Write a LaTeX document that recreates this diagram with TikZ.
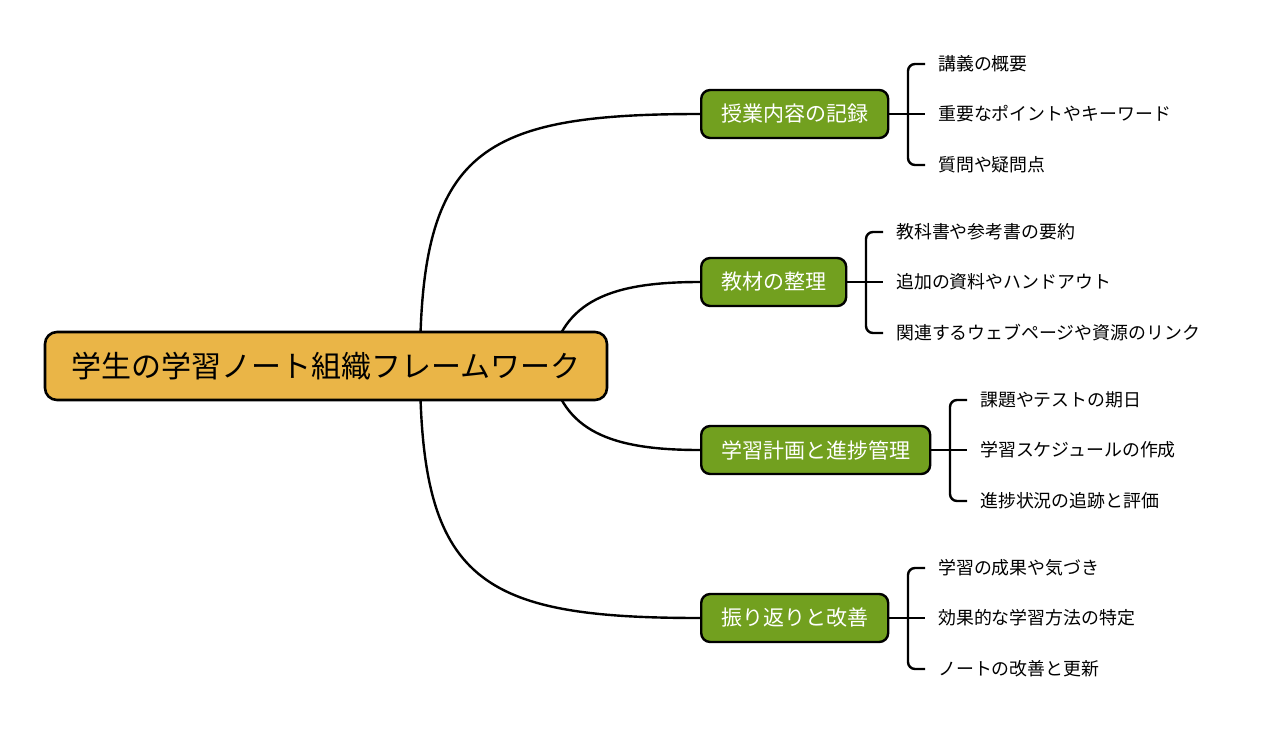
\documentclass[tikz,border=0pt]{standalone}
\usepackage{fontspec}
\usepackage{xcolor}
\usetikzlibrary{calc}
\newfontfamily\jpfont{Noto Sans CJK JP}
\definecolor{mapink}{HTML}{000000}
\definecolor{maproot}{HTML}{EAB547}
\definecolor{mapgreen}{HTML}{72A01F}

\begin{document}
\begin{tikzpicture}[
  x=1pt, y=-1pt,
  rootbox/.style={draw=mapink, fill=maproot, text=mapink, line width=2.6pt,
    rounded corners=12pt, minimum width=562pt, minimum height=68pt,
    font=\jpfont\fontsize{30}{34}\selectfont},
  topic/.style={draw=mapink, fill=mapgreen, text=white, line width=2.4pt,
    rounded corners=9pt, inner xsep=20pt, minimum height=48pt,
    font=\jpfont\fontsize{21}{24}\selectfont},
  leaf/.style={anchor=west, inner sep=0pt, text=mapink,
    font=\jpfont\fontsize{17.9}{21}\selectfont},
  branch/.style={draw=mapink, line width=2.4pt},
  brace/.style={draw=mapink, line width=2.4pt, rounded corners=7pt},
]
\useasboundingbox (0,0) rectangle (1264,747);

% ===== curve start points inside the root =====
\coordinate (rootout) at (420,366);
\coordinate (rootin) at (550,366);

% ===== topics =====
\node[topic, anchor=west] (b1) at (700,114) {授業内容の記録};
\node[topic, anchor=west] (b2) at (700,282) {教材の整理};
\node[topic, anchor=west] (b3) at (700,450) {学習計画と進捗管理};
\node[topic, anchor=west] (b4) at (700,618) {振り返りと改善};

% ===== curves from the root =====
\draw[branch] (rootout) .. controls (420,150) and (480,114) .. (b1.west);
\draw[branch] (rootin) .. controls (562,300) and (612,282) .. (b2.west);
\draw[branch] (rootin) .. controls (562,432) and (612,450) .. (b3.west);
\draw[branch] (rootout) .. controls (420,582) and (480,618) .. (b4.west);

% ===== root =====
\node[rootbox] (root) at (326,366) {学生の学習ノート組織フレームワーク};

% ===== leaves =====
\node[leaf] (l11) at (938,64) {講義の概要};
\node[leaf] (l12) at (938,114) {重要なポイントやキーワード};
\node[leaf] (l13) at (938,165) {質問や疑問点};

\node[leaf] (l21) at (896,232) {教科書や参考書の要約};
\node[leaf] (l22) at (896,282) {追加の資料やハンドアウト};
\node[leaf] (l23) at (896,333) {関連するウェブページや資源のリンク};

\node[leaf] (l31) at (980,400) {課題やテストの期日};
\node[leaf] (l32) at (980,450) {学習スケジュールの作成};
\node[leaf] (l33) at (980,501) {進捗状況の追跡と評価};

\node[leaf] (l41) at (938,568) {学習の成果や気づき};
\node[leaf] (l42) at (938,618) {効果的な学習方法の特定};
\node[leaf] (l43) at (938,669) {ノートの改善と更新};

% ===== brackets =====
\foreach \b in {1,2,3,4}{
  \draw[brace] ([xshift=-13pt]l\b1.west) -- ([xshift=-30pt]l\b1.west)
    -- ([xshift=-30pt]l\b3.west) -- ([xshift=-13pt]l\b3.west);
  \draw[branch] (b\b.east) -- ([xshift=-13pt]l\b2.west);
}

\end{tikzpicture}
\end{document}
